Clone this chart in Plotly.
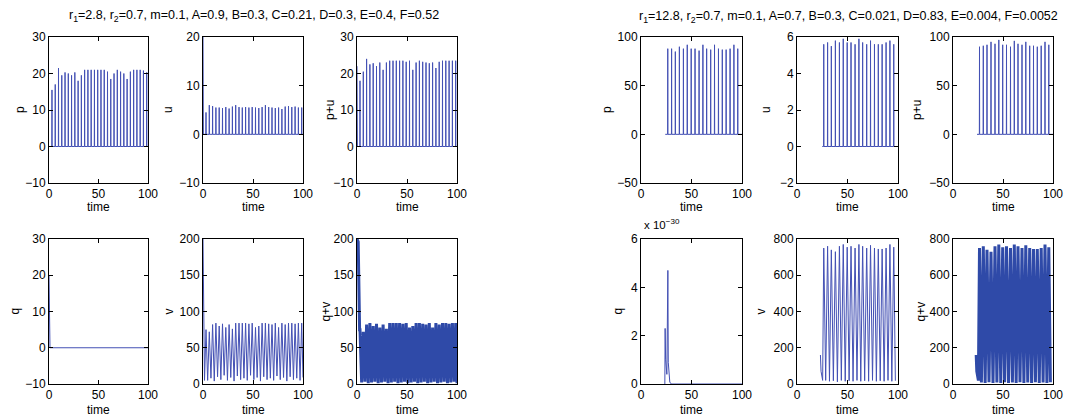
import plotly.graph_objects as go

# ------------------------------------------------------------------ data
L_TITLE = "r<sub>1</sub>=2.8, r<sub>2</sub>=0.7, m=0.1, A=0.9, B=0.3, C=0.21, D=0.3, E=0.4, F=0.52"
R_TITLE = "r<sub>1</sub>=12.8, r<sub>2</sub>=0.7, m=0.1, A=0.7, B=0.3, C=0.021, D=0.83, E=0.004, F=0.0052"

# left parameter set: spike times and spike heights
left_spike_t = [3, 6.3, 9.6, 12.9, 16.2, 19.5, 22.8, 26.1, 29.4, 32.7, 36, 39.3, 42.6, 45.9, 49.2,
                52.5, 55.8, 59.1, 62.4, 65.7, 69, 72.3, 75.6, 78.9, 82.2, 85.5, 88.8, 92.1, 95.4, 98.7]
left_p_peak = [15.5, 17, 21.5, 19.5, 20.3, 20, 19.5, 20.3, 18, 19.5, 21, 21, 21, 21, 21,
               21, 21, 20.5, 18.5, 20, 21, 20.5, 20, 18.5, 20.5, 21, 21, 21, 20.8, 20.3]
left_u_peak = [4.5, 6, 5.8, 5.5, 5.5, 5.4, 5.6, 5.3, 5.7, 6, 5.6, 5.5, 5.6, 5.5, 5.6,
               5.5, 5.4, 5.6, 6, 5.6, 5.5, 5.4, 5.5, 5.2, 5.7, 5.8, 5.6, 5.7, 5.5, 5.5]
left_pu_peak = [18, 20.5, 24, 22.5, 22.8, 22, 23, 21, 23, 23.5, 23.5, 23.5, 23.5, 23.5, 23.2,
                23.5, 21, 23, 23.5, 23.2, 23, 22.8, 23, 21.5, 23.2, 23.5, 23.5, 23.5, 23.5, 23.5]
left_v_peak = [75, 72, 82, 84, 80, 83, 78, 82, 76, 84, 84, 84, 84, 83, 84,
               78, 80, 84, 84, 83, 82, 84, 78, 84, 82, 84, 84, 83, 84, 84]
left_v_trough = [5, 8, 4, 10, 6, 12, 5, 9, 4, 11, 6, 8, 5, 12, 6,
                 9, 4, 10, 6, 8, 5, 11, 6, 9, 4, 10, 6, 8, 5, 9]
left_qv_trough = [2, 3, 1, 2, 3, 1, 2, 3, 1, 2, 3, 1, 2, 3, 1,
                  2, 3, 1, 2, 3, 1, 2, 3, 1, 2, 3, 1, 2, 3, 1]
left_u_start = [20, 0]
left_u_start_t = [0, 0.4]
left_pu_start = [22, 0]
left_pu_start_t = [0, 0.4]
left_q_t = [0, 0.3, 1, 100]
left_q = [20, 2, 0, 0]
left_v_start_t = [0, 0.8, 1.5]
left_v_start = [200, 60, 5]
left_qv_start_t = [0, 1.2, 2.6]
left_qv_start = [200, 196, 75]

# right parameter set
right_base_t = 24
right_spike_t = [26.5, 30.3, 34, 38, 42, 45.8, 49.7, 53.5, 57.5, 61.3, 65, 69, 72.8, 76.7, 80.5,
                 84.3, 88.2, 92, 95.8]
right_p_peak = [88, 88, 85, 90, 88, 92, 88, 88, 86, 92, 88, 87, 92, 88, 87, 87, 88, 92, 88]
right_u_peak = [5.6, 5.7, 5.5, 5.8, 5.7, 5.9, 5.7, 5.7, 5.6, 5.9, 5.7, 5.6, 5.8, 5.6, 5.6,
                5.6, 5.7, 5.8, 5.6]
right_pu_peak = [90, 91, 92, 95, 93, 97, 92, 92, 90, 96, 93, 92, 95, 91, 91, 90, 91, 95, 92]
right_v_peak = [750, 760, 740, 730, 760, 770, 755, 760, 750, 770, 760, 750, 765, 750, 745,
                745, 750, 770, 755]
right_v_trough = [20, 15, 18, 12, 20, 15, 18, 15, 20, 15, 18, 15, 20, 15, 18, 15, 20, 15, 18]
right_qv_trough = [8, 5, 10, 6, 8, 5, 10, 6, 8, 5, 10, 6, 8, 5, 10, 6, 8, 5, 10]
right_q_t = [23.6, 23.9, 24.4, 25.6, 26.6, 27.0, 27.6, 28.5, 30, 100]
right_q = [0, 2.3e-30, 1.0e-30, 0.4e-30, 4.7e-30, 0.9e-30, 0.3e-30, 0.08e-30, 0, 0]
right_v_start_t = [23.2, 23.8, 25.4]
right_v_start = [160, 70, 20]

# ------------------------------------------------------------------ helpers
def spike_series(t0, times, peaks, start_t=None, start_y=None, w=0.15):
    xs, ys = [], []
    if start_t:
        xs += list(start_t)
        ys += list(start_y)
    else:
        xs.append(t0)
        ys.append(0)
    for t, h in zip(times, peaks):
        xs += [t - w, t, t + w]
        ys += [0, h, 0]
    xs.append(100)
    ys.append(0)
    return xs, ys


def osc_series(start_t, start_y, times, peaks, troughs):
    xs, ys = list(start_t), list(start_y)
    n = len(times)
    for i in range(n):
        xs.append(times[i])
        ys.append(peaks[i])
        nxt = (times[i] + times[i + 1]) / 2 if i + 1 < n else min(100, times[i] + 1.6)
        xs.append(nxt)
        ys.append(troughs[i])
    return xs, ys


# ------------------------------------------------------------------ layout geometry (pixels)
W, H = 1075, 419
OFF = 8  # page body margin offset
cols = [(49, 148), (203, 303), (357, 457), (641, 742), (797, 898), (953, 1053)]
rows = [(37, 183), (239, 384)]


def fx(px):
    return (px - OFF) / W


def fy(py):
    return 1 - (py - OFF) / H


THIN = '#4350b4'
THICK = '#2f4aa8'
FONT = 'Liberation Sans, Arial, sans-serif'

panels = []

x, y = spike_series(0, left_spike_t, left_p_peak)
panels.append((0, 0, x, y, [-10, 30], [-10, 0, 10, 20, 30], None, 'p', 20, THIN, 1))
x, y = spike_series(0, left_spike_t, left_u_peak, left_u_start_t, left_u_start)
panels.append((0, 1, x, y, [-10, 20], [-10, 0, 10, 20], None, 'u', 168, THIN, 1))
x, y = spike_series(0, left_spike_t, left_pu_peak, left_pu_start_t, left_pu_start)
panels.append((0, 2, x, y, [-10, 30], [-10, 0, 10, 20, 30], None, 'p+u', 330, THIN, 1))
panels.append((1, 0, left_q_t, left_q, [-10, 30], [-10, 0, 10, 20, 30], None, 'q', 14, THIN, 1))
x, y = osc_series(left_v_start_t, left_v_start, left_spike_t, left_v_peak, left_v_trough)
panels.append((1, 1, x, y, [0, 200], [0, 50, 100, 150, 200], None, 'v', 168, THIN, 1))
x, y = osc_series(left_qv_start_t, left_qv_start, left_spike_t, left_v_peak, left_qv_trough)
panels.append((1, 2, x, y, [0, 200], [0, 50, 100, 150, 200], None, 'q+v', 325, THICK, 3))

x, y = spike_series(right_base_t, right_spike_t, right_p_peak)
panels.append((0, 3, x, y, [-50, 100], [-50, 0, 50, 100], None, 'p', 607, THIN, 1))
x, y = spike_series(right_base_t + 1, right_spike_t, right_u_peak)
panels.append((0, 4, x, y, [-2, 6], [-2, 0, 2, 4, 6], None, 'u', 766, THIN, 1))
x, y = spike_series(right_base_t, right_spike_t, right_pu_peak)
panels.append((0, 5, x, y, [-50, 100], [-50, 0, 50, 100], None, 'p+u', 917, THIN, 1))
panels.append((1, 3, right_q_t, right_q, [0, 6e-30], [0, 2e-30, 4e-30, 6e-30], ['0', '2', '4', '6'],
               'q', 617, THIN, 1))
x, y = osc_series(right_v_start_t, right_v_start, right_spike_t, right_v_peak, right_v_trough)
panels.append((1, 4, x, y, [0, 800], [0, 200, 400, 600, 800], None, 'v', 760, THIN, 1))
x, y = osc_series(right_v_start_t, right_v_start, right_spike_t, right_v_peak, right_qv_trough)
panels.append((1, 5, x, y, [0, 800], [0, 200, 400, 600, 800], None, 'q+v', 920, THICK, 3))

fig = go.Figure()
annotations = []
layout = {}
for i, (r, c, xs, ys, yr, tv, tt, lab, labx, color, lw) in enumerate(panels, start=1):
    xa = 'x' if i == 1 else f'x{i}'
    ya = 'y' if i == 1 else f'y{i}'
    fig.add_trace(go.Scatter(x=xs, y=ys, mode='lines', xaxis=xa, yaxis=ya,
                             line=dict(color=color, width=lw), showlegend=False,
                             hoverinfo='skip'))
    x0, x1 = cols[c]
    y0, y1 = rows[r]
    common = dict(showline=True, linecolor='black', linewidth=1, mirror='ticks',
                  ticks='inside', ticklen=4, tickcolor='black', showgrid=False,
                  zeroline=False, automargin=False,
                  tickfont=dict(family=FONT, size=12, color='black'))
    layout['xaxis' if i == 1 else f'xaxis{i}'] = dict(
        domain=[fx(x0), fx(x1)], range=[0, 100], tickvals=[0, 50, 100],
        anchor=ya, **common)
    yax = dict(domain=[fy(y1), fy(y0)], range=yr, tickvals=tv,
               anchor=xa, **common)
    if tt:
        yax['ticktext'] = tt
    layout['yaxis' if i == 1 else f'yaxis{i}'] = yax
    annotations.append(dict(text=lab, x=fx(labx), y=fy((y0 + y1) / 2), xref='paper',
                            yref='paper', showarrow=False, textangle=-90,
                            font=dict(family=FONT, size=12, color='black'),
                            xanchor='center', yanchor='middle'))
    ty = 207 if r == 0 else 410
    annotations.append(dict(text='time', x=fx((x0 + x1) / 2), y=fy(ty), xref='paper',
                            yref='paper', showarrow=False,
                            font=dict(family=FONT, size=12, color='black'),
                            xanchor='center', yanchor='middle'))

annotations.append(dict(text=L_TITLE, x=fx(254), y=fy(16), xref='paper', yref='paper',
                        showarrow=False, font=dict(family=FONT, size=12.5, color='black'),
                        xanchor='center', yanchor='middle'))
annotations.append(dict(text=R_TITLE, x=fx(848), y=fy(17), xref='paper', yref='paper',
                        showarrow=False, font=dict(family=FONT, size=12.5, color='black'),
                        xanchor='center', yanchor='middle'))
annotations.append(dict(text='x 10<sup>\u221230</sup>', x=fx(642), y=fy(224), xref='paper',
                        yref='paper', showarrow=False,
                        font=dict(family=FONT, size=11.5, color='black'),
                        xanchor='left', yanchor='middle'))

fig.update_layout(width=W, height=H, margin=dict(l=0, r=0, t=0, b=0, autoexpand=False),
                  paper_bgcolor='white', plot_bgcolor='white',
                  annotations=annotations, showlegend=False, **layout)

fig.write_html("out.html")
